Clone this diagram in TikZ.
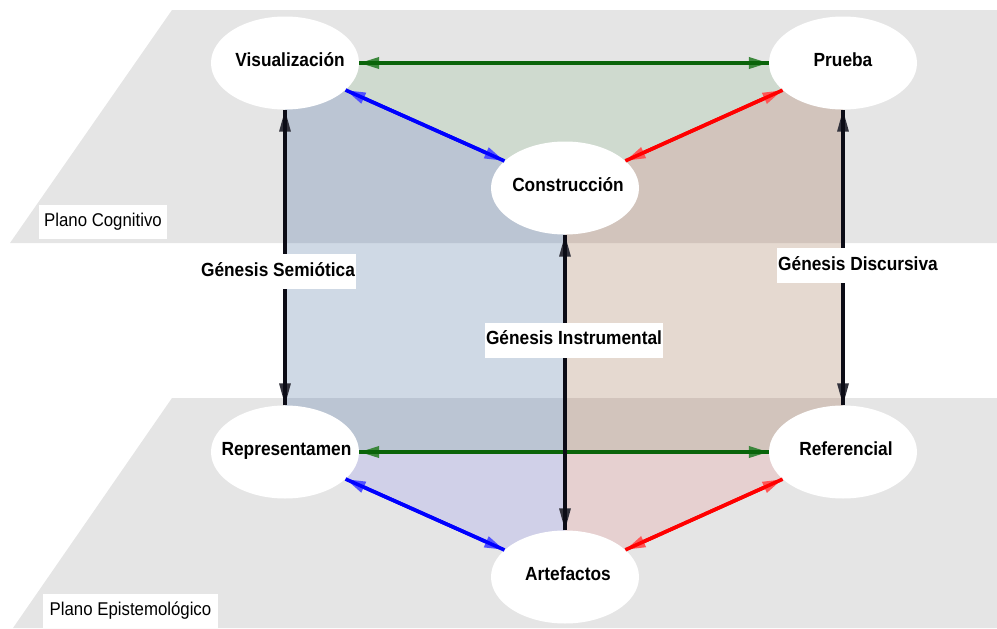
\documentclass[tikz,border=0pt]{standalone}
\usepackage{fontspec}
\setmainfont{Liberation Sans}
\usetikzlibrary{arrows.meta,shapes.geometric}
\pgfdeclarelayer{bg}
\pgfsetlayers{bg,main}
\definecolor{planegray}{RGB}{229,229,229}
\definecolor{leftoff}{RGB}{207,217,229}
\definecolor{lefton}{RGB}{187,197,211}
\definecolor{rightoff}{RGB}{229,217,208}
\definecolor{righton}{RGB}{210,196,188}
\definecolor{topgreen}{RGB}{207,218,207}
\definecolor{botleft}{RGB}{208,208,232}
\definecolor{botright}{RGB}{230,208,208}
\definecolor{ggreen}{RGB}{10,100,10}
\definecolor{ggreentip}{RGB}{60,135,60}
\definecolor{gblue}{RGB}{0,0,255}
\definecolor{gbluetip}{RGB}{80,80,255}
\definecolor{gred}{RGB}{255,0,0}
\definecolor{gredtip}{RGB}{255,85,85}
\definecolor{gblack}{RGB}{12,12,22}
\definecolor{gblacktip}{RGB}{50,50,60}
\newcommand{\stext}[2][0pt]{\scalebox{1}[1.1]{\makebox[0pt]{\hspace*{#1}\hspace*{#1}#2}}}
\newcommand{\ltext}[1]{\scalebox{1}[1.1]{#1}}
\begin{document}
\begin{tikzpicture}[x=1pt,y=-1pt,
  state/.style={ellipse, fill=white, minimum width=148pt, minimum height=93pt, inner sep=0pt,
    font=\fontsize{17.3}{20}\selectfont\bfseries, text height=13.6pt, text depth=6pt},
  glabel/.style={fill=white, inner xsep=1.2pt, inner ysep=0pt, minimum height=35pt,
    font=\fontsize{17.3}{20}\selectfont\bfseries, text height=13.6pt, text depth=4pt},
  plabel/.style={fill=white, inner ysep=0pt, minimum height=34pt,
    font=\fontsize{16.8}{20}\selectfont, text height=13.3pt, text depth=3.5pt},
  garrow/.style={draw=ggreen, line width=3.6pt,
    {Triangle[length=20pt,width=11pt,color=ggreentip]}-{Triangle[length=20pt,width=11pt,color=ggreentip]}},
  gline/.style={draw=ggreen, line width=3.6pt},
  barrow/.style={draw=gblue, line width=3.6pt,
    {Triangle[length=20pt,width=11pt,color=gbluetip]}-{Triangle[length=20pt,width=11pt,color=gbluetip]}},
  bline/.style={draw=gblue, line width=3.6pt},
  rarrow/.style={draw=gred, line width=3.6pt,
    {Triangle[length=20pt,width=11pt,color=gredtip]}-{Triangle[length=20pt,width=11pt,color=gredtip]}},
  rline/.style={draw=gred, line width=3.6pt},
  karrow/.style={draw=gblack, line width=3.2pt,
    {Triangle[length=22pt,width=11pt,color=gblacktip]}-{Triangle[length=22pt,width=11pt,color=gblacktip]}},
  kline/.style={draw=gblack, line width=3.2pt}
]
\useasboundingbox (0,0) rectangle (997,629);

% nodes
\node[state] (V) at (285,63) {\stext[5pt]{Visualización}};
\node[state] (P) at (843,63) {\stext{Prueba}};
\node[state] (C) at (565,188) {\stext[3pt]{Construcción}};
\node[state] (R) at (285,452) {\stext[1.5pt]{Representamen}};
\node[state] (F) at (843,452) {\stext[3pt]{Referencial}};
\node[state] (A) at (565,577) {\stext[3pt]{Artefactos}};

\begin{pgfonlayer}{bg}
  \fill[planegray] (172,10) -- (997,10) -- (997,243) -- (10,243) -- cycle;
  \fill[planegray] (172,398) -- (997,398) -- (997,628) -- (13,628) -- cycle;
  \fill[leftoff] (V.center) -- (C.center) -- (A.center) -- (R.center) -- cycle;
  \fill[rightoff] (P.center) -- (C.center) -- (A.center) -- (F.center) -- cycle;
  \begin{scope}
    \clip (172,10) -- (997,10) -- (997,243) -- (10,243) -- cycle
          (172,398) -- (997,398) -- (997,628) -- (13,628) -- cycle;
    \fill[lefton] (V.center) -- (C.center) -- (A.center) -- (R.center) -- cycle;
    \fill[righton] (P.center) -- (C.center) -- (A.center) -- (F.center) -- cycle;
  \end{scope}
  \fill[topgreen] (V.center) -- (P.center) -- (C.center) -- cycle;
  \fill[botleft] (R.center) -- (R.center -| A.center) -- (A.center) -- cycle;
  \fill[botright] (F.center) -- (F.center -| A.center) -- (A.center) -- cycle;
\end{pgfonlayer}

% connectors
\draw[garrow] (V) -- (P);  \draw[gline] (V) -- (P);
\draw[garrow] (R) -- (F);  \draw[gline] (R) -- (F);
\draw[barrow] (V) -- (C);  \draw[bline] (V) -- (C);
\draw[barrow] (R) -- (A);  \draw[bline] (R) -- (A);
\draw[rarrow] (C) -- (P);  \draw[rline] (C) -- (P);
\draw[rarrow] (A) -- (F);  \draw[rline] (A) -- (F);
\draw[karrow] (R) -- (V);  \draw[kline] (R) -- (V);
\draw[karrow] (A) -- (C);  \draw[kline] (A) -- (C);
\draw[karrow] (F) -- (P);  \draw[kline] (F) -- (P);

% labels
\node[glabel] (gs) at (278,271.5) {\ltext{Génesis Semiótica}};
\node[glabel] (gd) at (858,265.5) {\ltext{Génesis Discursiva}};
\node[glabel] (gi) at (574,340) {\ltext{Génesis Instrumental}};
\node[plabel, minimum width=128pt] (pc) at (103,222) {\ltext{Plano Cognitivo}};
\node[plabel, minimum width=175pt] (pe) at (130.5,610.5) {\ltext{Plano Epistemológico}};
\end{tikzpicture}
\end{document}
